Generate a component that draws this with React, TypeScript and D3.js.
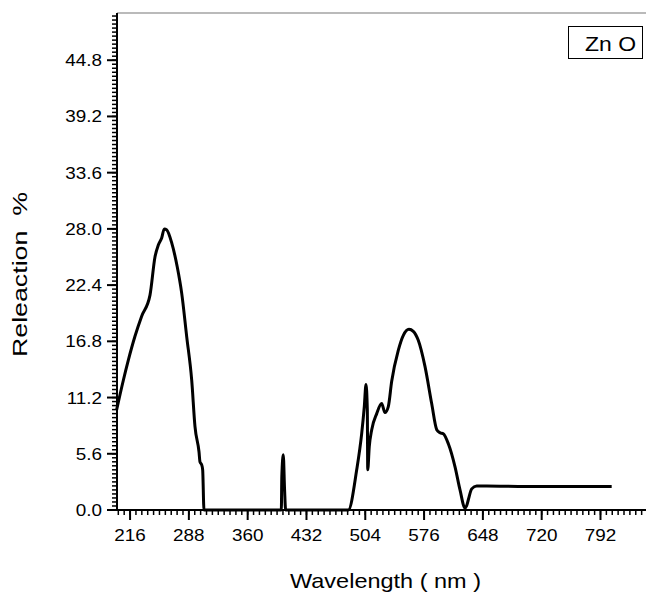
import * as d3 from "d3";

// wavelength (nm) and reflection (%)
const wavelength = [
  199.6, 207.7, 213.8, 222, 230.2, 240.4, 246.5, 250.6, 254.7, 257.9, 260.9, 267, 273.8, 279.2,
  285.3, 291.5, 295.5, 300.4, 301.6, 303.7, 304.9, 306.5, 350, 401.2, 401.8, 403.6, 405.2, 406.5,
  440, 483.2, 493.5, 499.6, 502.8, 504.9, 506.5, 507.0, 508.9, 511.9, 518.0, 524.1, 528.1, 532.2,
  536.3, 544.4, 550.6, 557.5, 562.8, 568.9, 577.1, 585.3, 591.5, 595.5, 599.5, 605.7, 613.9,
  620.0, 626.1, 628.0, 630.1, 634.3, 640.4, 652.7, 700, 760, 805.7,
];
const reflection = [
  10.0, 12.9, 14.9, 17.3, 19.3, 21.4, 25.2, 26.4, 27.1, 28.0, 27.9, 26.6, 24.2, 21.6,
  17.3, 12.9, 8.3, 5.8, 4.8, 4.5, 4.0, 0, 0, 0, 3.3, 5.5, 2.0, 0,
  0, 0, 4.0, 7.6, 10.3, 12.5, 10, 4.0, 6.3, 8.0, 9.6, 10.6, 9.7, 10.3,
  12.8, 15.9, 17.4, 18.0, 17.8, 16.9, 14.3, 10.6, 8.0, 7.7, 7.6, 6.6, 4.3,
  2.0, 0.2, 0.4, 1.0, 2.1, 2.4, 2.4, 2.35, 2.35, 2.35,
];

const xTicks = [216, 288, 360, 432, 504, 576, 648, 720, 792];
const yTicks = [0, 5.6, 11.2, 16.8, 22.4, 28.0, 33.6, 39.2, 44.8];
const seriesName = "Zn O";

export default function App() {
  const width = 646;
  const height = 593;
  const left = 117;
  const bottom = 510;
  const top = 13;

  const x = d3.scaleLinear().domain([200, 200 + (646 - left) / 0.8167]).range([left, 646]);
  const y = d3.scaleLinear().domain([0, (bottom - top) / 10.04]).range([bottom, top]);

  const xMinor = d3.range(201.6, x.domain()[1], 7.2);
  const yMinor = d3.range(0, y.domain()[1], 0.4);

  const points: [number, number][] = wavelength.map((w, i) => [w, reflection[i]]);
  const line = d3
    .line<[number, number]>()
    .x((d) => x(d[0]))
    .y((d) => y(d[1]))
    .curve(d3.curveMonotoneX);

  const font = "'Liberation Sans', Arial, sans-serif";

  return (
    <svg
      width={width}
      height={height}
      style={{ position: "absolute", left: 0, top: 0, background: "#fff" }}
      fontFamily={font}
    >
      <rect width={width} height={height} fill="#fff" />
      {/* top frame */}
      <line x1={left} x2={width} y1={top} y2={top} stroke="#777" strokeWidth={1.2} />

      {/* curve */}
      <path d={line(points) ?? ""} fill="none" stroke="#000" strokeWidth={3} strokeLinejoin="round" />

      {/* x axis */}
      <line x1={left - 1} x2={width} y1={bottom} y2={bottom} stroke="#000" strokeWidth={2} />
      {xMinor.map((t) => (
        <line key={`xm-${t}`} x1={x(t)} x2={x(t)} y1={bottom} y2={bottom + 5} stroke="#000" strokeWidth={1.5} />
      ))}
      {xTicks.map((t) => (
        <g key={`x-${t}`}>
          <line x1={x(t)} x2={x(t)} y1={bottom} y2={bottom + 10} stroke="#000" strokeWidth={2} />
          <g transform={`translate(${x(t)}, ${bottom + 31}) scale(1.18, 1)`}>
            <text textAnchor="middle" fontSize={16} fill="#000">
              {t}
            </text>
          </g>
        </g>
      ))}

      {/* y axis */}
      <line x1={left} x2={left} y1={top} y2={bottom + 1} stroke="#000" strokeWidth={2} />
      {yMinor.map((t) => (
        <line key={`ym-${t}`} x1={left - 5} x2={left} y1={y(t)} y2={y(t)} stroke="#000" strokeWidth={1.5} />
      ))}
      {yTicks.map((t) => (
        <g key={`y-${t}`}>
          <line x1={left - 10} x2={left} y1={y(t)} y2={y(t)} stroke="#000" strokeWidth={2} />
          <g transform={`translate(${left - 15}, ${y(t) + 6}) scale(1.18, 1)`}>
            <text textAnchor="end" fontSize={16} fill="#000">
              {t.toFixed(1)}
            </text>
          </g>
        </g>
      ))}

      {/* axis titles */}
      <text
        x={290}
        y={588}
        fontSize={21}
        textLength={191}
        lengthAdjust="spacingAndGlyphs"
        fill="#000"
      >
        Wavelength ( nm )
      </text>
      <text
        transform={`translate(27, 357) rotate(-90)`}
        fontSize={20}
        textLength={165}
        lengthAdjust="spacingAndGlyphs"
        fill="#000"
        xmlSpace="preserve"
        style={{ whiteSpace: "pre" }}
      >
        {"Releaction  %"}
      </text>

      {/* legend */}
      <rect x={568.5} y={26.5} width={74} height={32} fill="#fff" stroke="#000" strokeWidth={1} />
      <text x={585} y={50.5} fontSize={21} textLength={51} lengthAdjust="spacingAndGlyphs" fill="#000">
        {seriesName}
      </text>
    </svg>
  );
}
